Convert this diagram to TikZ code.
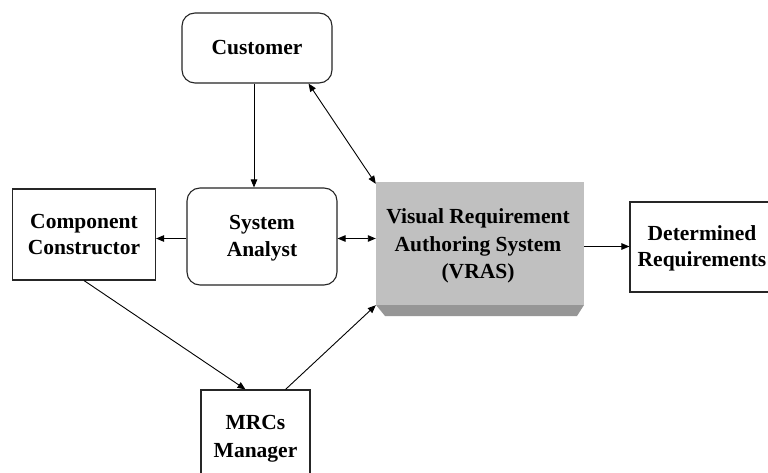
\documentclass[tikz,border=0pt]{standalone}
\usepackage{fontspec}
\setmainfont{Liberation Serif}
\usetikzlibrary{arrows.meta}
\definecolor{vrasgray}{RGB}{192,192,192}
\definecolor{vrasdark}{RGB}{150,150,150}
\begin{document}
\begin{tikzpicture}[x=1pt,y=-1pt,
  lbl/.style={font=\fontsize{21.5}{25.5}\selectfont\bfseries, align=center, text=black},
  wide/.style={font=\fontsize{21.5}{27.5}\selectfont\bfseries},
  rbox/.style={lbl, draw=black!85, line width=1.1pt, rounded corners=13pt, inner sep=0pt},
  sbox/.style={lbl, draw=black!85, line width=1.1pt, inner sep=0pt},
  arr/.style={line width=0.9pt, -{Triangle[length=8pt,width=6.5pt]}},
  darr/.style={line width=0.9pt, {Triangle[length=8pt,width=6.5pt]}-{Triangle[length=8pt,width=6.5pt]}}]
\clip (0,0) rectangle (768,473);
\fill[white] (0,0) rectangle (768,473);
% nodes
\node[rbox, minimum width=150pt, minimum height=70pt] (cust) at (257,48) {Customer};
\node[rbox, minimum width=150pt, minimum height=97pt] (sa) at (262,236.5) {};
\node[lbl, wide] (satext) at (262,238) {System\\Analyst};
\node[sbox, minimum width=143pt, minimum height=91pt] (cc) at (84,234.5) {Component\\Constructor};
% VRAS box with bevel
\fill[vrasdark] (376,305) -- (584,305) -- (577,316) -- (385,316) -- cycle;
\node[fill=vrasgray, minimum width=208pt, minimum height=123pt, inner sep=0pt] (vras) at (480,243.5) {};
\node[lbl, wide] (vrastext) at (478,246) {Visual Requirement\\Authoring System\\(VRAS)};
\node[sbox, minimum width=144pt, minimum height=90pt] (det) at (702,247) {};
\node[lbl] (dettext) at (702,248.5) {Determined\\Requirements};
\node[sbox, minimum width=109pt, minimum height=96pt] (mrc) at (255.5,438) {};
\node[lbl, wide] (mrctext) at (255.5,439) {MRCs\\Manager};
% connectors
\draw[arr] ([xshift=-3pt]cust.south) -- ([xshift=-3pt]cust.south |- sa.north);
\draw[darr] ([xshift=-24pt]cust.south east) -- ([yshift=-2pt]vras.north west);
\draw[darr] ([yshift=-2pt]sa.east) -- ([yshift=-2pt]sa.east -| vras.west);
\draw[arr] ([yshift=-2pt]sa.west) -- ([yshift=-2pt]sa.west -| cc.east);
\draw[arr] ([yshift=-3pt]vras.east) -- ([yshift=-3pt]vras.east -| det.west);
\draw[arr] (cc.south) -- ([xshift=-10pt]mrc.north);
\draw[arr] ([xshift=30pt]mrc.north) -- (vras.south west);
\end{tikzpicture}
\end{document}
